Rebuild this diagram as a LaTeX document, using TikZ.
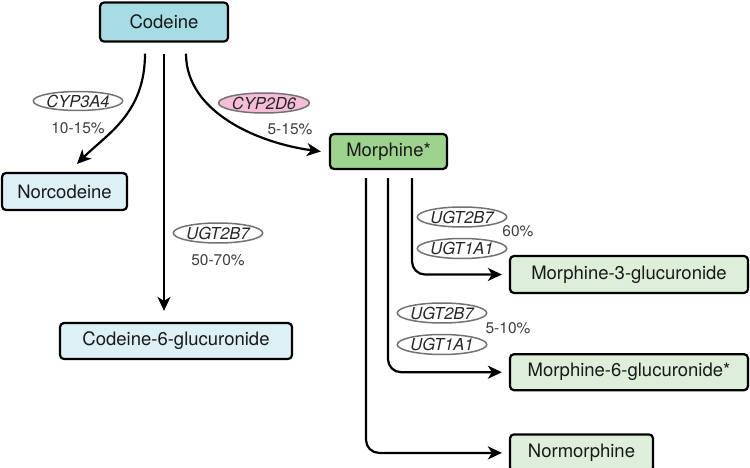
\documentclass[tikz,border=0pt]{standalone}
\usepackage{fontspec}
\setmainfont{TeX Gyre Heros}
\usetikzlibrary{shapes.geometric, arrows.meta, positioning}
\definecolor{codfill}{HTML}{A6DCE4}
\definecolor{paleblue}{HTML}{DDF0F6}
\definecolor{morfill}{HTML}{9DD28F}
\definecolor{palegreen}{HTML}{DDEFD9}
\definecolor{pinkfill}{HTML}{F5BDD8}

\begin{document}
\begin{tikzpicture}[x=1pt, y=-1pt, >={Stealth[length=14pt,width=13pt,inset=4pt]},
    box/.style={rectangle, draw, line width=2.2pt, rounded corners=4pt, minimum height=37pt, inner sep=0pt, text=black!90, font=\fontsize{18.5}{20}\selectfont},
    enz/.style={ellipse, draw=black!55, line width=1.5pt, minimum width=80pt, minimum height=20pt, inner sep=0pt, text=black!85, font=\fontsize{16.5}{17}\selectfont\itshape},
    pct/.style={inner sep=0pt, text=black!75, font=\fontsize{15.5}{16}\selectfont},
    arr/.style={->, line width=2.2pt}]

    \useasboundingbox (0,0) rectangle (750,468);

    % compounds
    \node (codeine) [box, fill=codfill, minimum width=128pt, minimum height=39pt] at (164,22) {Codeine};
    \node (norcod) [box, fill=paleblue, minimum width=125pt] at (64.5,191.5) {Norcodeine};
    \node (c6g) [box, fill=paleblue, minimum width=232pt, minimum height=36pt] at (176,341) {Codeine-6-glucuronide};
    \node (morphine) [box, fill=morfill, minimum width=117pt, minimum height=35pt] at (388.5,151.5) {Morphine*};
    \node (m3g) [box, fill=palegreen, minimum width=238pt] at (629,274.5) {Morphine-3-glucuronide};
    \node (m6g) [box, fill=palegreen, minimum width=238pt, minimum height=36pt, below=59pt of m3g] {Morphine-6-glucuronide*};
    \node (normor) [box, fill=palegreen, minimum width=143pt, below right=42pt and 0pt of m6g.south west] {Normorphine};

    % enzymes
    \node (cyp3a4) [enz, minimum width=78pt, minimum height=19pt] at (78,101) {CYP3A4};
    \node (p3a4) [pct, below=11pt of cyp3a4] {10-15\%};
    \node (cyp2d6) [enz, fill=pinkfill, minimum width=83pt] at (264,103) {CYP2D6};
    \node (p2d6) [pct] at (290,129) {5-15\%};
    \node (ugtc) [enz] at (218,233) {UGT2B7};
    \node (pc) [pct, below=11pt of ugtc] {50-70\%};
    \node (ugt2b7a) [enz] at (462,217) {UGT2B7};
    \node (ugt1a1a) [enz, below=10pt of ugt2b7a] {UGT1A1};
    \node (p60) [pct] at (518,231) {60\%};
    \node (ugt2b7b) [enz] at (442,313) {UGT2B7};
    \node (ugt1a1b) [enz, below=10pt of ugt2b7b] {UGT1A1};
    \node (p510) [pct] at (508,328) {5-10\%};

    % pathways
    \draw [arr] ([xshift=-19pt,yshift=-11pt]codeine.south) .. controls +(0,60) and +(30,-30) .. ([xshift=12.5pt,yshift=8pt]norcod.north);
    \draw [arr, shorten >=11pt] ([yshift=-11pt]codeine.south) -- (codeine.south |- c6g.north);
    \draw [arr] ([xshift=22pt,yshift=-11pt]codeine.south) .. controls +(0,60) and +(-60,-8) .. ([xshift=-8pt]morphine.west);
    \draw [arr, rounded corners=13pt, shorten >=7pt] ([xshift=23.5pt,yshift=-8pt]morphine.south) |- (m3g.west);
    \draw [arr, rounded corners=13pt, shorten >=7pt] ([xshift=-0.5pt,yshift=-8pt]morphine.south) |- (m6g.west);
    \draw [arr, rounded corners=13pt, shorten >=7pt] ([xshift=-22.5pt,yshift=-8pt]morphine.south) |- (normor.west);

\end{tikzpicture}
\end{document}
